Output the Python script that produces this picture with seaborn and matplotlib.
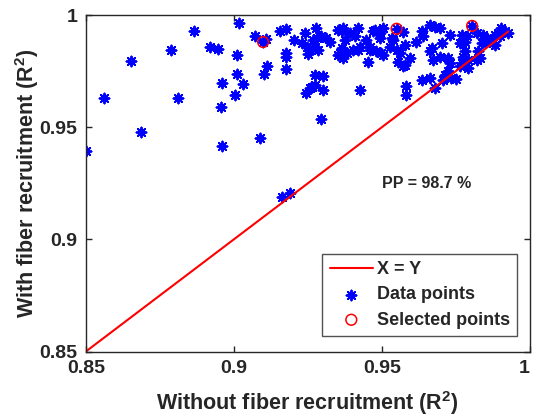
import matplotlib
matplotlib.use("Agg")
import matplotlib.pyplot as plt
import seaborn as sns
import numpy as np
import pandas as pd

# R^2 without / with fiber recruitment
r2_without = [
    0.8500, 0.8563, 0.8651, 0.8686, 0.8788, 0.8813, 0.8866, 0.8920, 0.8945, 0.8961,
    0.8956, 0.8961, 0.9004, 0.9010, 0.9012, 0.9019, 0.9071, 0.9099, 0.9030, 0.9113,
    0.9103, 0.9090, 0.9155, 0.9178, 0.9204, 0.9240, 0.9175, 0.9178, 0.9175, 0.9244,
    0.9258, 0.9163, 0.9190, 0.9109, 0.9229, 0.9246, 0.9258, 0.9252, 0.9276, 0.9280,
    0.9295, 0.9313, 0.9325, 0.9274, 0.9285, 0.9353, 0.9353, 0.9274, 0.9302, 0.9263,
    0.9274, 0.9302, 0.9294, 0.9268, 0.9370, 0.9364, 0.9392, 0.9420, 0.9409, 0.9376,
    0.9364, 0.9382, 0.9403, 0.9420, 0.9476, 0.9494, 0.9504, 0.9550, 0.9572, 0.9448,
    0.9459, 0.9482, 0.9498, 0.9527, 0.9538, 0.9550, 0.9561, 0.9578, 0.9555, 0.9578,
    0.9595, 0.9453, 0.9617, 0.9635, 0.9640, 0.9662, 0.9679, 0.9696, 0.9668, 0.9662,
    0.9703, 0.9730, 0.9674, 0.9696, 0.9724, 0.9730, 0.9724, 0.9713, 0.9707, 0.9719,
    0.9735, 0.9752, 0.9662, 0.9679, 0.9635, 0.9581, 0.9581, 0.9428, 0.9770, 0.9781,
    0.9787, 0.9805, 0.9820, 0.9842, 0.9854, 0.9848, 0.9837, 0.9764, 0.9781, 0.9775,
    0.9770, 0.9764, 0.9792, 0.9792, 0.9825, 0.9831, 0.9820, 0.9864, 0.9876, 0.9882,
    0.9893, 0.9904, 0.9915, 0.9927, 0.9898, 0.9882, 0.9459, 0.9504, 0.9533, 0.9572,
    0.9358, 0.9370, 0.9426, 0.9494, 0.9471,
]
r2_with = [
    0.9392, 0.9630, 0.9796, 0.9477, 0.9844, 0.9630, 0.9931, 0.9860, 0.9850, 0.9698,
    0.9590, 0.9417, 0.9643, 0.9820, 0.9738, 0.9964, 0.9905, 0.9880, 0.9692, 0.9775,
    0.9738, 0.9450, 0.9931, 0.9940, 0.9887, 0.9920, 0.9831, 0.9813, 0.9761, 0.9652,
    0.9675, 0.9187, 0.9209, 0.9894, 0.9875, 0.9860, 0.9845, 0.9826, 0.9942, 0.9897,
    0.9908, 0.9897, 0.9882, 0.9860, 0.9845, 0.9934, 0.9823, 0.9734, 0.9729, 0.9679,
    0.9689, 0.9664, 0.9536, 0.9890, 0.9942, 0.9927, 0.9920, 0.9942, 0.9905, 0.9890,
    0.9853, 0.9831, 0.9845, 0.9845, 0.9934, 0.9920, 0.9942, 0.9939, 0.9924, 0.9890,
    0.9860, 0.9838, 0.9831, 0.9860, 0.9890, 0.9845, 0.9831, 0.9868, 0.9793, 0.9778,
    0.9808, 0.9793, 0.9878, 0.9927, 0.9905, 0.9957, 0.9949, 0.9942, 0.9853, 0.9838,
    0.9875, 0.9912, 0.9801, 0.9815, 0.9808, 0.9786, 0.9749, 0.9734, 0.9712, 0.9726,
    0.9719, 0.9715, 0.9719, 0.9675, 0.9712, 0.9686, 0.9645, 0.9667, 0.9912, 0.9882,
    0.9905, 0.9952, 0.9920, 0.9912, 0.9897, 0.9882, 0.9875, 0.9875, 0.9838, 0.9815,
    0.9786, 0.9771, 0.9764, 0.9801, 0.9838, 0.9808, 0.9801, 0.9890, 0.9875, 0.9912,
    0.9920, 0.9942, 0.9927, 0.9920, 0.9905, 0.9868, 0.9845, 0.9823, 0.9897, 0.9771,
    0.9831, 0.9808, 0.9860, 0.9897, 0.9927,
]
sel_without = [0.9099, 0.9550, 0.9805]
sel_with = [0.9880, 0.9939, 0.9952]
ticks = [0.85, 0.9, 0.95, 1.0]
tick_labels = ["0.85", "0.9", "0.95", "1"]
pp_text = "PP = 98.7 %"

df = pd.DataFrame({"without": r2_without, "with": r2_with})
sel = pd.DataFrame({"without": sel_without, "with": sel_with})
xy = np.array([min(r2_without), max(r2_without)])

sns.set_style("ticks")
plt.rcParams["font.family"] = ["Liberation Sans", "DejaVu Sans"]
plt.rcParams["font.weight"] = "bold"
plt.rcParams["mathtext.fontset"] = "custom"
plt.rcParams["mathtext.rm"] = "Liberation Sans:bold"
plt.rcParams["mathtext.it"] = "Liberation Sans:bold"
plt.rcParams["mathtext.default"] = "rm"

fig = plt.figure(figsize=(5.33, 4.2), dpi=100)
ax = fig.add_axes([0.161, 0.163, 0.833, 0.801])

sns.lineplot(x=xy, y=xy, ax=ax, color="red", lw=1.5, label="X = Y")
sns.scatterplot(data=df, x="without", y="with", ax=ax, marker=(8, 2, 0),
                color="blue", s=50, linewidth=1.4, edgecolor="blue",
                label="Data points")
sns.scatterplot(data=sel, x="without", y="with", ax=ax, marker="o",
                facecolor="none", edgecolor="red", s=60, linewidth=1.1,
                label="Selected points")

ax.set_xlim(0.85, 1.0)
ax.set_ylim(0.85, 1.0)
ax.set_xticks(ticks)
ax.set_yticks(ticks)
ax.set_xticklabels(tick_labels)
ax.set_yticklabels(tick_labels)
ax.tick_params(direction="in", top=True, right=True, length=4, width=1,
               labelsize=14, color="#262626", labelcolor="#262626", pad=6)
# keep the last x label inside the canvas
ax.get_xticklabels()[-1].set_horizontalalignment("right")
for s in ax.spines.values():
    s.set_visible(True)
    s.set_color("#262626")
    s.set_linewidth(1)

ax.set_xlabel("Without fiber recruitment (R$^2$)", fontsize=15.5,
              fontweight="bold", color="#262626", labelpad=9)
ax.set_ylabel("With fiber recruitment (R$^2$)", fontsize=15.5,
              fontweight="bold", color="#262626", labelpad=-1)

ax.text(0.950, 0.925, pp_text, fontsize=11.5, fontweight="bold",
        ha="left", va="center")

leg = ax.legend(loc="lower right", bbox_to_anchor=(0.971, 0.047),
                borderaxespad=0, fancybox=False, frameon=True,
                prop={"size": 13, "weight": "bold"}, handlelength=2.4,
                labelspacing=0.45, borderpad=0.4, handletextpad=0.2)
leg.get_frame().set_edgecolor("#262626")
leg.get_frame().set_linewidth(1)

fig.savefig("out.png", dpi=100)
